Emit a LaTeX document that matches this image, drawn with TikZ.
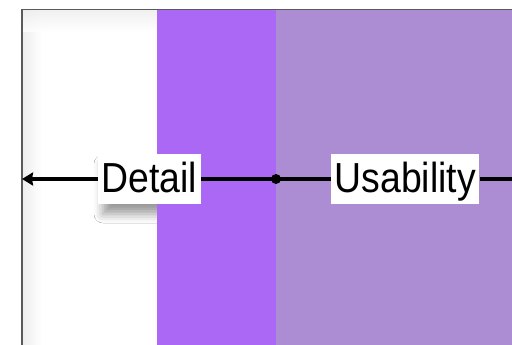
\documentclass[tikz,border=0pt]{standalone}
\usepackage{fontspec}
\setmainfont[FakeStretch=0.89]{Liberation Sans}
\usetikzlibrary{arrows.meta,shadows.blur}
\definecolor{bandA}{RGB}{171,104,245}
\definecolor{bandB}{RGB}{172,140,210}
\definecolor{frameC}{RGB}{90,90,90}
\tikzset{
  lbl/.style={fill=white, inner xsep=3.5pt, inner ysep=0pt, text height=39pt, text depth=11pt,
    font=\fontsize{42}{48}\selectfont, anchor=base west},
  conn/.style={line width=4pt, black},
}
\begin{document}
\begin{tikzpicture}[x=1pt,y=-1pt]
\useasboundingbox (0,0) rectangle (512,345);
\fill[white] (0,0) rectangle (512,345);
% inner shadow of white area
\shade[left color=black!7, right color=white] (22,10) rectangle (42,345);
\shade[top color=black!7, bottom color=white, opacity=0.8] (22,10) rectangle (157,32);
% shadow of the Detail label, hidden by the band
\fill[white, blur shadow={shadow xshift=5pt, shadow yshift=-10pt, shadow blur radius=9pt, shadow opacity=40}] (98,154) rectangle (200,204);
% bands
\fill[bandA] (157,10) rectangle (276,345);
\fill[bandB] (276,10) rectangle (512,345);
% frame
\draw[frameC, line width=1.8pt] (22,345) -- (22,9.5) -- (512,9.5);
% labels
\node[lbl] (detail) at (98,193) {Detail};
\node[lbl] (usab) at (331,193) {Usability};
\coordinate (dot) at (276,179);
\coordinate (leftend) at (22,179);
\coordinate (rightend) at (512,179);
\draw[conn] (usab.east) -- (rightend);
\draw[conn] (usab.west) -- (dot);
\draw[conn] (dot) -- (detail.east);
\draw[conn, -{Stealth[length=11pt,width=13pt,inset=1pt]}] (detail.west) -- (leftend);
\fill[black] (dot) circle (5pt);
\end{tikzpicture}
\end{document}
